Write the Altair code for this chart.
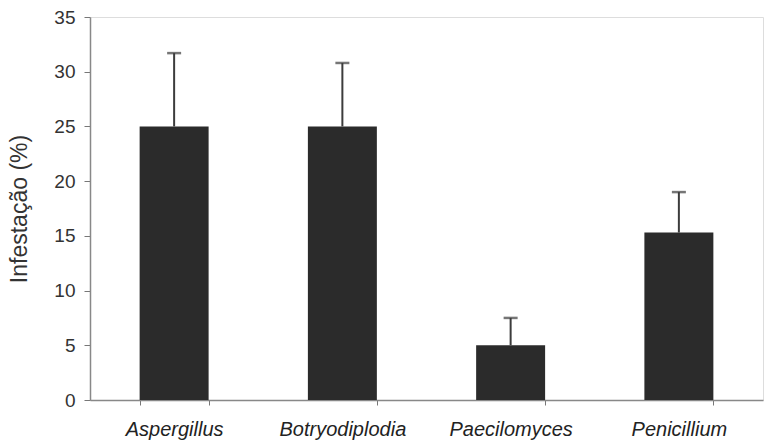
import altair as alt
import pandas as pd

genera = ["Aspergillus", "Botryodiplodia", "Paecilomyces", "Penicillium"]
means = [25.0, 25.0, 5.0, 15.3]
errors = [6.7, 5.8, 2.5, 3.7]

df = pd.DataFrame({
    "genus": genera,
    "mean": means,
    "upper": [m + e for m, e in zip(means, errors)],
})

font = "Liberation Sans"
xscale = alt.Scale(domain=genera, paddingInner=0.59, paddingOuter=0.295)
yscale = alt.Scale(domain=[0, 35], nice=False)

x = alt.X("genus:N", scale=xscale, sort=genera, title=None,
          axis=alt.Axis(labelAngle=0, labelFontStyle="italic", labelFontSize=20,
                        labelFont=font, labelColor="#222", labelPadding=14,
                        tickBand="extent", tickSize=5, tickColor="#777",
                        domainColor="#888", domainWidth=1.5))

bars = alt.Chart(df).mark_bar(color="#2b2b2b").encode(
    x=x,
    y=alt.Y("mean:Q", scale=yscale, title="Infestação (%)",
            axis=alt.Axis(values=list(range(0, 36, 5)), grid=False,
                          labelFontSize=19, labelFont=font, labelColor="#333",
                          labelPadding=9, tickSize=6, tickColor="#777",
                          domainColor="#888", domainWidth=1.5,
                          titleFont=font, titleFontSize=23, titleFontWeight="normal",
                          titleColor="#333", titlePadding=22)),
)

rules = alt.Chart(df).mark_rule(color="#3c3c3c", strokeWidth=2).encode(
    x=alt.X("genus:N", scale=xscale, sort=genera),
    y=alt.Y("mean:Q", scale=yscale),
    y2="upper:Q",
)

caps = alt.Chart(df).mark_tick(color="#3c3c3c", thickness=2.5, size=14, orient="horizontal").encode(
    x=alt.X("genus:N", scale=xscale, sort=genera),
    y=alt.Y("upper:Q", scale=yscale),
)

chart = (bars + rules + caps).properties(
    width=673, height=383,
    autosize=alt.AutoSizeParams(type="none"),
    padding={"left": 90, "top": 17, "right": 1, "bottom": 42},
).configure_view(stroke="#aaa", strokeWidth=1.5).configure(background="white")

chart.save("out.html", embed_options={"renderer": "svg", "actions": False})
